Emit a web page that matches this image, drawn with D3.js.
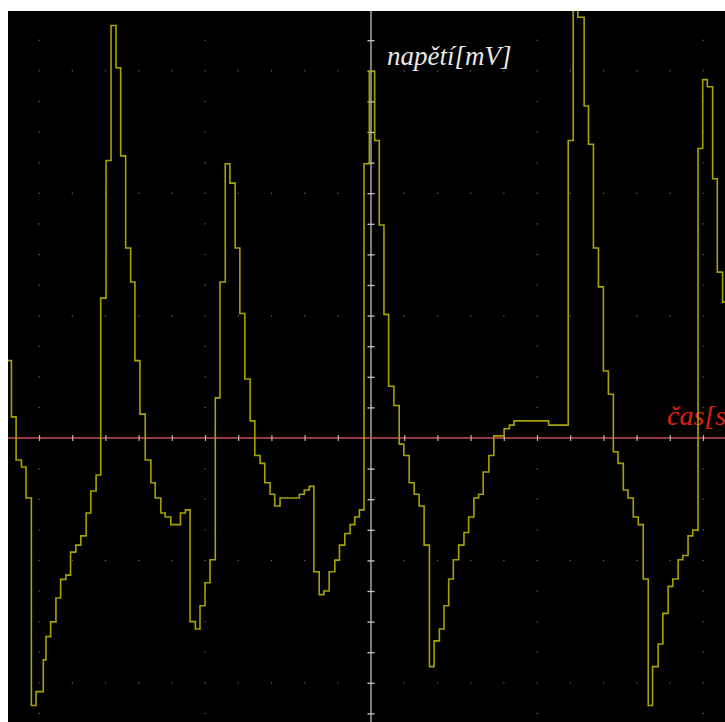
<!DOCTYPE html>
<html>
<head>
<meta charset="utf-8">
<script src="https://cdn.jsdelivr.net/npm/d3@7"></script>
<style>
  html, body { margin: 0; padding: 0; background: #fff; }
  svg { display: block; }
</style>
</head>
<body>
<svg id="chart"></svg>
<script>
"use strict";

// ---------------------------- DATA ---------------------------- //
// Oscilloscope trace. Time in divisions (0 = vertical axis),
// voltage in divisions (0 = red time axis). Each level holds until the next time.
const stepTime = [
  -10.93, -10.83, -10.69, -10.53, -10.39, -10.23, -10.09, -9.87, -9.79, -9.65,
  -9.49, -9.35, -9.19, -9.05, -8.89, -8.74, -8.58, -8.44, -8.28, -8.14,
  -7.98, -7.83, -7.68, -7.54, -7.39, -7.24, -7.11, -6.96, -6.80, -6.63,
  -6.50, -6.33, -6.20, -6.03, -5.74, -5.59, -5.45, -5.29, -5.15, -5.00,
  -4.85, -4.69, -4.55, -4.39, -4.25, -4.09, -3.95, -3.80, -3.64, -3.50,
  -3.34, -3.20, -3.04, -2.90, -2.74, -2.16, -2.01, -1.86, -1.72, -1.56,
  -1.42, -1.26, -1.09, -0.95, -0.79, -0.63, -0.49, -0.35, -0.21, -0.05,
  0.11, 0.25, 0.39, 0.53, 0.69, 0.85, 0.99, 1.15, 1.30, 1.45,
  1.60, 1.76, 1.90, 2.06, 2.20, 2.34, 2.48, 2.64, 2.80, 2.94,
  3.10, 3.24, 3.38, 3.55, 3.70, 4.01, 4.17, 4.31, 5.35, 5.94,
  6.09, 6.23, 6.42, 6.55, 6.70, 6.85, 7.00, 7.15, 7.30, 7.44,
  7.60, 7.74, 7.90, 8.05, 8.20, 8.35, 8.48, 8.65, 8.79, 8.95,
  9.09, 9.25, 9.39, 9.55, 9.69, 9.85, 9.99, 10.13, 10.29, 10.43,
  10.59, 10.66
];
const stepLevel = [
  2.53, 0.69, -0.72, -0.95, -1.96, -8.74, -8.29, -7.25, -6.49, -6.01,
  -5.23, -4.62, -4.48, -3.73, -3.50, -3.20, -2.45, -1.73, -1.21, 4.57,
  9.07, 13.48, 12.10, 9.22, 6.21, 5.10, 2.53, 0.78, -0.72, -1.46,
  -1.96, -2.45, -2.58, -2.83, -2.45, -2.35, -6.00, -6.24, -5.48, -4.73,
  -3.98, 1.31, 5.10, 8.96, 8.33, 6.21, 4.07, 1.93, 0.56, -0.57,
  -0.83, -1.46, -1.84, -2.22, -1.96, -1.84, -1.70, -1.58, -4.37, -5.12,
  -5.00, -4.37, -3.99, -3.50, -3.12, -2.83, -2.58, -2.35, 8.96, 11.98,
  9.72, 6.96, 4.04, 1.69, 1.06, -0.20, -0.57, -1.46, -1.84, -2.22,
  -3.50, -7.47, -6.63, -6.24, -5.48, -4.61, -3.98, -3.50, -3.09, -2.58,
  -1.96, -1.84, -1.11, -0.57, 0.07, 0.30, 0.42, 0.56, 0.42, 9.72,
  14.5, 13.75, 10.85, 9.60, 6.21, 4.94, 2.19, 1.43, -0.45, -0.83,
  -1.70, -1.96, -2.58, -2.83, -4.61, -8.74, -7.47, -6.73, -5.73, -4.85,
  -4.61, -3.98, -3.84, -3.20, -3.01, 9.46, 11.71, 11.48, 8.47, 5.42,
  4.44, 4.44
];
const trace = stepTime.map((t, i) => ({ t: t, v: stepLevel[i] }));

// axis captions (the time caption runs off the right edge, as on the screen)
const yCaption = "napětí[mV]";
const xCaption = "čas[s]";

// ---------------------------- SVG SETUP ---------------------------- //
const svgWidth = 725;
const svgHeight = 722;
const screen = { left: 8, top: 11, right: 725, bottom: 722 };

const svg = d3.select("#chart")
  .attr("width", svgWidth)
  .attr("height", svgHeight);

svg.append("rect")
  .attr("x", screen.left).attr("y", screen.top)
  .attr("width", screen.right - screen.left)
  .attr("height", screen.bottom - screen.top)
  .attr("fill", "#000");

svg.append("clipPath").attr("id", "screen-clip")
  .append("rect")
  .attr("x", screen.left).attr("y", screen.top)
  .attr("width", screen.right - screen.left)
  .attr("height", screen.bottom - screen.top);

// ---------------------------- SCALES ---------------------------- //
const xScale = d3.scaleLinear().domain([-10, 10]).range([39, 703]);
const yScale = d3.scaleLinear().domain([-8, 12]).range([682.8, 70.8]);

const x0 = xScale(0);
const y0 = yScale(0);

const ticksX = d3.range(-10, 11).filter(k => k !== 0);
const ticksY = d3.range(-9, 14).filter(j => j !== 0);

// ---------------------------- DOTTED GRID ---------------------------- //
// dots every minor step along the major lines (5 divisions across, 4 up)
const dots = [];
ticksX.forEach(k => {
  ticksY.forEach(j => {
    if (k % 5 === 0 || j % 4 === 0) dots.push({ k: k, j: j });
  });
});

svg.append("g")
  .selectAll("rect")
  .data(dots)
  .enter()
  .append("rect")
  .attr("x", d => xScale(d.k) - 0.5)
  .attr("y", d => yScale(d.j) - 0.5)
  .attr("width", 1.2).attr("height", 1.2)
  .attr("fill", "#6a6a6a");

// ---------------------------- AXES ---------------------------- //
// vertical (voltage) axis, grey, full height
svg.append("line")
  .attr("x1", x0).attr("x2", x0)
  .attr("y1", screen.top).attr("y2", screen.bottom)
  .attr("stroke", "#9c9c9c").attr("stroke-width", 1.6);

const yAxisG = svg.append("g")
  .attr("transform", `translate(${x0 - 3.5},0)`)
  .call(d3.axisRight(yScale).tickValues(ticksY).tickSize(7).tickFormat(""));
yAxisG.select(".domain").remove();
yAxisG.selectAll(".tick line").attr("stroke", "#c8c8c8").attr("stroke-width", 1.3);

// horizontal (time) axis, red
svg.append("line")
  .attr("x1", screen.left).attr("x2", screen.right)
  .attr("y1", y0).attr("y2", y0)
  .attr("stroke", "#c4524f").attr("stroke-width", 1.6);

const xAxisG = svg.append("g")
  .attr("transform", `translate(0,${y0 - 3})`)
  .call(d3.axisBottom(xScale).tickValues(ticksX).tickSize(6).tickFormat(""));
xAxisG.select(".domain").remove();
xAxisG.selectAll(".tick line").attr("stroke", "#b8b8b8").attr("stroke-width", 1.2);

// ---------------------------- CAPTIONS ---------------------------- //
svg.append("text")
  .attr("x", 387).attr("y", 65)
  .style("font-family", "'Liberation Serif', 'Times New Roman', serif")
  .style("font-style", "italic")
  .style("font-size", "27px")
  .attr("fill", "#e8e8e8")
  .text(yCaption);

svg.append("text")
  .attr("x", 667).attr("y", 425)
  .style("font-family", "'Liberation Serif', 'Times New Roman', serif")
  .style("font-style", "italic")
  .style("font-size", "28px")
  .attr("fill", "#e0200f")
  .text(xCaption);

// ---------------------------- TRACE ---------------------------- //
const line = d3.line()
  .x(d => xScale(d.t))
  .y(d => yScale(d.v))
  .curve(d3.curveStepAfter);

svg.append("path")
  .datum(trace)
  .attr("clip-path", "url(#screen-clip)")
  .attr("d", line)
  .attr("fill", "none")
  .attr("stroke", "#a8a200")
  .attr("stroke-width", 1.6);
</script>
</body>
</html>
